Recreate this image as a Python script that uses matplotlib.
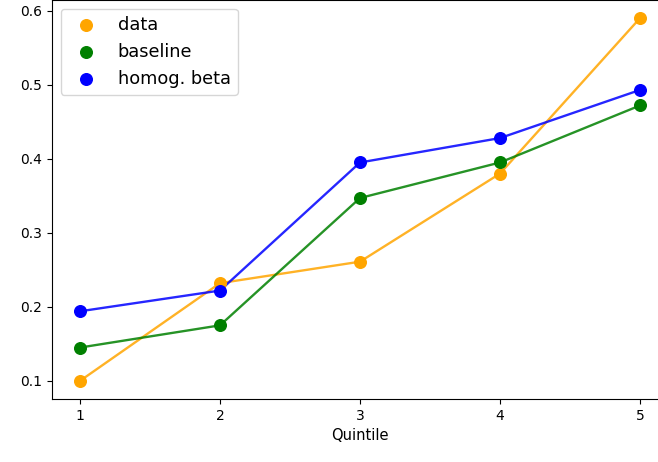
import matplotlib
matplotlib.use("Agg")
import matplotlib.pyplot as plt

quintiles = [1, 2, 3, 4, 5]
data = [0.100, 0.232, 0.261, 0.380, 0.590]
baseline = [0.145, 0.175, 0.347, 0.395, 0.472]
homog_beta = [0.194, 0.222, 0.395, 0.428, 0.493]

series = [
    ("data", data, "orange"),
    ("baseline", baseline, "green"),
    ("homog. beta", homog_beta, "blue"),
]

fig = plt.figure(figsize=(6.58, 4.62), dpi=100)
ax = fig.add_axes([52 / 658, 63 / 462, 616 / 658, 399 / 462])

for label, vals, col in series:
    ax.scatter(quintiles, vals, color=col, s=70, label=label, zorder=3)
    ax.plot(quintiles, vals, color=col, alpha=0.85, linewidth=1.7, zorder=2)

ax.set_xticks(quintiles)
ax.set_xlabel("Quintile", fontsize=10.5)
ax.legend(loc="upper left", fontsize=12.8)

fig.savefig("out.png", dpi=100)
